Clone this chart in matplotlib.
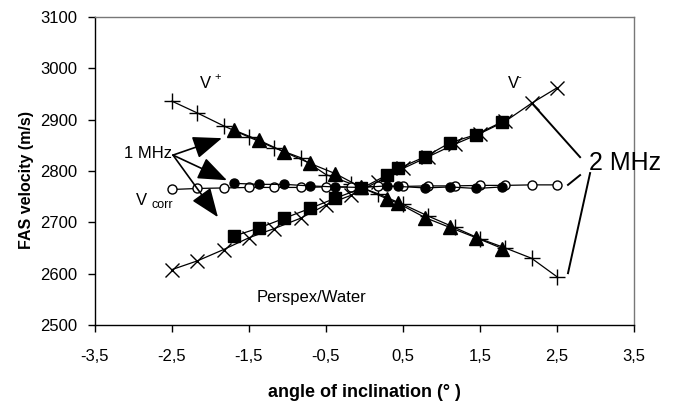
import matplotlib
matplotlib.use('Agg')
import matplotlib.pyplot as plt

plt.rcParams['font.family'] = ['Liberation Sans', 'DejaVu Sans']

# 2 MHz series (16 angles)
angles_2mhz = [-2.5, -2.17, -1.83, -1.5, -1.17, -0.83, -0.5, -0.17,
               0.17, 0.5, 0.83, 1.17, 1.5, 1.83, 2.17, 2.5]
v_plus_2mhz = [2936, 2913, 2888, 2866, 2845, 2826, 2793, 2775,
               2756, 2735, 2712, 2690, 2668, 2650, 2630, 2594]
v_minus_2mhz = [2608, 2625, 2647, 2670, 2688, 2708, 2734, 2753,
                2779, 2805, 2828, 2852, 2873, 2897, 2932, 2962]
v_corr_2mhz = [2764, 2766, 2767, 2768, 2768, 2768, 2769, 2769,
               2770, 2770, 2771, 2771, 2772, 2772, 2773, 2773]

# 1 MHz series
angles_1mhz = [-1.70, -1.37, -1.04, -0.71, -0.38, -0.04,
               0.29, 0.44, 0.79, 1.11, 1.45, 1.79]
v_plus_1mhz = [2880, 2860, 2837, 2815, 2795, 2768,
               2746, 2737, 2709, 2690, 2670, 2649]
v_minus_1mhz = [2673, 2689, 2708, 2727, 2747, 2766,
                2792, 2805, 2828, 2855, 2871, 2896]
v_corr_1mhz = [2776, 2774, 2774, 2771, 2769, 2768,
               2771, 2770, 2767, 2769, 2766, 2769]

xticks = [-3.5, -2.5, -1.5, -0.5, 0.5, 1.5, 2.5, 3.5]
xtick_labels = ['-3,5', '-2,5', '-1,5', '-0,5', '0,5', '1,5', '2,5', '3,5']
yticks = [2500, 2600, 2700, 2800, 2900, 3000, 3100]

fig = plt.figure(figsize=(6.79, 4.03), dpi=100)
ax = fig.add_axes([0.1399, 0.1935, 0.7938, 0.7643])

lw = 0.9
ax.plot(angles_2mhz, v_plus_2mhz, color='black', lw=lw, marker='+', ms=11, mew=1)
ax.plot(angles_2mhz, v_minus_2mhz, color='black', lw=lw, marker='x', ms=10, mew=1)
ax.plot(angles_2mhz, v_corr_2mhz, color='black', lw=lw, marker='o', ms=6.5,
        mfc='white', mec='black', mew=1)
ax.plot(angles_1mhz, v_corr_1mhz, color='black', lw=lw, marker='o', ms=6.5)
ax.plot(angles_1mhz, v_plus_1mhz, color='black', lw=lw, marker='^', ms=9.5)
ax.plot(angles_1mhz, v_minus_1mhz, color='black', lw=lw, marker='s', ms=8.5)

ax.set_xlim(-3.5, 3.5)
ax.set_ylim(2500, 3100)
ax.set_xticks(xticks)
ax.set_xticklabels(xtick_labels)
ax.set_yticks(yticks)
ax.tick_params(direction='out', length=5, width=1, labelsize=12, color='black')
ax.tick_params(axis='x', pad=12)
ax.tick_params(axis='y', pad=8)
for s in ['left', 'bottom']:
    ax.spines[s].set_color('black')
    ax.spines[s].set_linewidth(1)
for s in ['top', 'right']:
    ax.spines[s].set_color('#777777')
    ax.spines[s].set_linewidth(1)

ax.set_xlabel('angle of inclination (° )', fontsize=13, fontweight='bold')
ax.set_ylabel('FAS velocity (m/s)', fontsize=11.5, fontweight='bold')
ax.xaxis.set_label_coords(0.499, -0.192)
ax.yaxis.set_label_coords(-0.113, 0.471)

# labels
ax.text(-2.06, 2971, 'V', fontsize=12, ha='center', va='center')
ax.text(-1.91, 2983, '+', fontsize=8, ha='center', va='center')
ax.text(1.93, 2971, 'V', fontsize=12, ha='center', va='center')
ax.text(2.01, 2983, '-', fontsize=8, ha='center', va='center')
ax.text(-2.89, 2743, 'V', fontsize=12, ha='center', va='center')
ax.text(-2.76, 2734, 'corr', fontsize=9, ha='left', va='center')
ax.text(-1.40, 2553, 'Perspex/Water', fontsize=12, ha='left', va='center')

# 1 MHz arrows
ax.text(-3.12, 2835, '1 MHz', fontsize=12, ha='left', va='center')
start = (-2.487, 2831)
for tip in [(-1.851, 2864), (-1.786, 2782), (-1.903, 2710)]:
    ax.annotate('', xy=tip, xytext=start,
                arrowprops=dict(arrowstyle='-|>,head_length=0.9,head_width=0.35',
                                mutation_scale=20, color='black', lw=1.2,
                                shrinkA=0, shrinkB=0))

# 2 MHz pointer lines
ax.text(2.92, 2815, '2 MHz', fontsize=18, ha='left', va='center')
ax.plot([2.80, 2.175], [2827, 2932], color='black', lw=1.4)
ax.plot([2.80, 2.643], [2792, 2773], color='black', lw=1.4)
ax.plot([2.93, 2.643], [2796, 2601], color='black', lw=1.4)

fig.savefig('out.png', dpi=100)
